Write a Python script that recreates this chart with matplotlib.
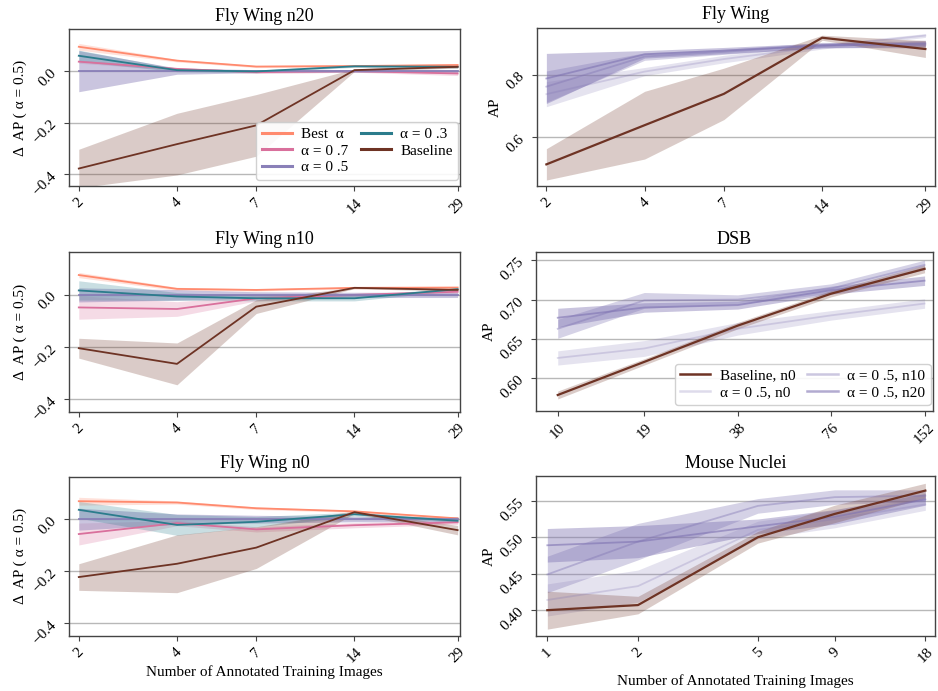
import matplotlib
matplotlib.use("Agg")
import matplotlib.pyplot as plt
from matplotlib.ticker import NullLocator, FixedLocator, FixedFormatter
from matplotlib.lines import Line2D

plt.rcParams['font.family'] = ['Liberation Serif', 'DejaVu Serif']

# ---------------- data ----------------
fly_x = [2, 4, 7, 14, 29]
dsb_x = [10, 19, 38, 76, 152]
mouse_x = [1, 2, 5, 9, 18]
fly_ticks = ['2', '4', '7', '14', '29']
dsb_ticks = ['10', '19', '38', '76', '152']
mouse_ticks = ['1', '2', '5', '9', '18']

left_labels = ['Best  α', 'α = 0 .7', 'α = 0 .5', 'α = 0 .3', 'Baseline']

# Fly Wing n20 (Delta AP vs alpha=0.5)
n20_best = [0.095, 0.041, 0.018, 0.020, 0.024]
n20_best_sd = [0.013, 0.005, 0.004, 0.004, 0.005]
n20_a07 = [0.037, 0.009, -0.004, 0.000, -0.009]
n20_a07_sd = [0.006, 0.005, 0.005, 0.004, 0.008]
n20_a05 = [0.0, 0.0, 0.0, 0.0, 0.0]
n20_a05_sd = [0.080, 0.012, 0.006, 0.005, 0.006]
n20_a03 = [0.060, 0.004, -0.001, 0.019, 0.017]
n20_a03_sd = [0.022, 0.006, 0.005, 0.004, 0.005]
n20_base = [-0.379, -0.284, -0.211, 0.004, 0.017]
n20_base_sd = [0.075, 0.120, 0.120, 0.005, 0.005]

# Fly Wing n10
n10_best = [0.076, 0.023, 0.019, 0.027, 0.028]
n10_best_sd = [0.010, 0.006, 0.004, 0.004, 0.005]
n10_a07 = [-0.048, -0.054, -0.013, 0.000, 0.012]
n10_a07_sd = [0.045, 0.028, 0.010, 0.006, 0.006]
n10_a05 = [0.0, 0.0, 0.0, 0.0, 0.0]
n10_a05_sd = [0.027, 0.020, 0.012, 0.010, 0.010]
n10_a03 = [0.017, -0.006, -0.013, -0.013, 0.022]
n10_a03_sd = [0.037, 0.015, 0.010, 0.010, 0.005]
n10_base = [-0.204, -0.264, -0.045, 0.027, 0.019]
n10_base_sd = [0.038, 0.080, 0.026, 0.003, 0.005]

# Fly Wing n0
n0_best = [0.069, 0.064, 0.042, 0.030, 0.003]
n0_best_sd = [0.015, 0.006, 0.005, 0.004, 0.004]
n0_a07 = [-0.057, -0.015, -0.039, -0.023, -0.012]
n0_a07_sd = [0.042, 0.010, 0.010, 0.010, 0.008]
n0_a05 = [0.0, 0.0, 0.0, 0.0, 0.0]
n0_a05_sd = [0.042, 0.020, 0.015, 0.010, 0.010]
n0_a03 = [0.036, -0.022, -0.010, 0.019, -0.006]
n0_a03_sd = [0.032, 0.040, 0.020, 0.008, 0.005]
n0_base = [-0.222, -0.171, -0.109, 0.027, -0.042]
n0_base_sd = [0.051, 0.111, 0.080, 0.005, 0.018]

# Fly Wing AP
fw_base = [0.514, 0.639, 0.739, 0.918, 0.882]
fw_base_sd = [0.050, 0.108, 0.082, 0.008, 0.027]
fw_n0 = [0.738, 0.810, 0.850, 0.890, 0.925]
fw_n0_sd = [0.040, 0.013, 0.012, 0.008, 0.006]
fw_n10 = [0.762, 0.858, 0.873, 0.895, 0.895]
fw_n10_sd = [0.050, 0.012, 0.008, 0.008, 0.010]
fw_n20 = [0.788, 0.865, 0.877, 0.893, 0.900]
fw_n20_sd = [0.080, 0.012, 0.010, 0.008, 0.010]

# DSB AP
dsb_base = [0.579, 0.621, 0.667, 0.7075, 0.739]
dsb_base_sd = [0.005, 0.004, 0.004, 0.004, 0.005]
dsb_n0 = [0.626, 0.638, 0.663, 0.680, 0.695]
dsb_n0_sd = [0.009, 0.010, 0.008, 0.006, 0.006]
dsb_n10 = [0.663, 0.699, 0.700, 0.714, 0.744]
dsb_n10_sd = [0.012, 0.010, 0.006, 0.006, 0.006]
dsb_n20 = [0.677, 0.690, 0.693, 0.712, 0.724]
dsb_n20_sd = [0.012, 0.006, 0.005, 0.005, 0.006]

# Mouse Nuclei AP
mn_base = [0.400, 0.407, 0.500, 0.532, 0.564]
mn_base_sd = [0.026, 0.012, 0.008, 0.012, 0.010]
mn_n0 = [0.414, 0.433, 0.510, 0.525, 0.545]
mn_n0_sd = [0.022, 0.022, 0.012, 0.012, 0.008]
mn_n10 = [0.449, 0.494, 0.543, 0.555, 0.557]
mn_n10_sd = [0.025, 0.025, 0.010, 0.010, 0.008]
mn_n20 = [0.489, 0.494, 0.515, 0.528, 0.552]
mn_n20_sd = [0.023, 0.022, 0.010, 0.010, 0.008]

# ---------------- style ----------------
c_best = '#FF8A6E'
c_a07 = '#D9709C'
c_a05 = '#8A80B8'
c_a03 = '#2B7C8C'
c_base = '#6E3324'
c_purple = '#7F73B2'

W, H = 938, 691
fig = plt.figure(figsize=(W / 100, H / 100), dpi=100)


def add_ax(x0, y0, x1, y1):
    return fig.add_axes([x0 / W, 1 - y1 / H, (x1 - x0) / W, (y1 - y0) / H])


def style(ax, xs, xt, xlim, ylim, yticks, yfmt):
    ax.set_xscale('log')
    ax.set_xlim(*xlim)
    ax.set_ylim(*ylim)
    ax.xaxis.set_major_locator(FixedLocator(xs))
    ax.xaxis.set_major_formatter(FixedFormatter(xt))
    ax.xaxis.set_minor_locator(NullLocator())
    ax.set_yticks(yticks)
    ax.set_yticklabels([yfmt.format(v).replace('-', '\u2212') for v in yticks])
    ax.tick_params(axis='both', labelsize=11, labelrotation=45, length=3.5,
                   color='#444444')
    ax.grid(axis='y', color='#b8b8b8', lw=1.0)
    ax.set_axisbelow(True)
    for s in ax.spines.values():
        s.set_color('#444444')
        s.set_linewidth(1.0)


def band(ax, x, m, sd, color, la=1.0, fa=0.3, lw=1.3):
    lo = [a - b for a, b in zip(m, sd)]
    hi = [a + b for a, b in zip(m, sd)]
    ax.fill_between(x, lo, hi, color=color, alpha=fa, lw=0)
    ax.plot(x, m, color=color, alpha=la, lw=lw)


left_sets = [
    ('Fly Wing n20', (n20_best, n20_best_sd), (n20_a07, n20_a07_sd), (n20_a05, n20_a05_sd),
     (n20_a03, n20_a03_sd), (n20_base, n20_base_sd)),
    ('Fly Wing n10', (n10_best, n10_best_sd), (n10_a07, n10_a07_sd), (n10_a05, n10_a05_sd),
     (n10_a03, n10_a03_sd), (n10_base, n10_base_sd)),
    ('Fly Wing n0', (n0_best, n0_best_sd), (n0_a07, n0_a07_sd), (n0_a05, n0_a05_sd),
     (n0_a03, n0_a03_sd), (n0_base, n0_base_sd)),
]
left_rects = [(68.5, 29.3, 460.3, 186), (68.5, 252.3, 460.3, 411.7), (68.5, 476.7, 460.3, 635.7)]
left_colors = [c_best, c_a07, c_a05, c_a03, c_base]

for i, (rect, data) in enumerate(zip(left_rects, left_sets)):
    ax = add_ax(*rect)
    title = data[0]
    for (m, sd), col in zip(data[1:], left_colors):
        fa = 0.25 if col != c_a05 else 0.45
        band(ax, fly_x, m, sd, col, fa=fa)
    style(ax, fly_x, fly_ticks, (1.86, 29.55), (-0.447, 0.163), [-0.4, -0.2, 0.0], '{:.1f}')
    ax.set_title(title, fontsize=13)
    ax.set_ylabel('Δ  AP ( α = 0.5)', fontsize=11, labelpad=2)
    if i == 0:
        handles = [Line2D([], [], color=c, lw=2.2) for c in left_colors]
        ax.legend(handles, left_labels, ncol=2, loc='lower right', fontsize=11,
                  handlelength=2.0, columnspacing=0.8, labelspacing=0.2,
                  borderpad=0.35, handletextpad=0.6, framealpha=0.9,
                  edgecolor='#cccccc', borderaxespad=0.0,
                  bbox_to_anchor=(0.995, 0.04))
    if i == 2:
        ax.set_xlabel('Number of Annotated Training Images', fontsize=11, labelpad=0)

# right column
right_sets = [
    ('Fly Wing', fly_x, fly_ticks, (1.868, 31.04), (0.445, 0.95), [0.6, 0.8], '{:.1f}',
     (fw_base, fw_base_sd), (fw_n0, fw_n0_sd), (fw_n10, fw_n10_sd), (fw_n20, fw_n20_sd)),
    ('DSB', dsb_x, dsb_ticks, (8.51, 161.2), (0.5587, 0.760), [0.60, 0.65, 0.70, 0.75], '{:.2f}',
     (dsb_base, dsb_base_sd), (dsb_n0, dsb_n0_sd), (dsb_n10, dsb_n10_sd), (dsb_n20, dsb_n20_sd)),
    ('Mouse Nuclei', mouse_x, mouse_ticks, (0.917, 19.38), (0.365, 0.584), [0.40, 0.45, 0.50, 0.55], '{:.2f}',
     (mn_base, mn_base_sd), (mn_n0, mn_n0_sd), (mn_n10, mn_n10_sd), (mn_n20, mn_n20_sd)),
]
right_rects = [(536.7, 27.7, 935.0, 186), (536, 252.3, 932.5, 411), (536, 476, 935.0, 635.7)]
right_labels = ['Baseline, n0', 'α = 0 .5, n0', 'α = 0 .5, n10', 'α = 0 .5, n20']
purple_line_alpha = [0.25, 0.4, 0.6]
purple_fill_alpha = [0.2, 0.32, 0.42]

for i, (rect, d) in enumerate(zip(right_rects, right_sets)):
    ax = add_ax(*rect)
    title, xs, xt, xlim, ylim, yt, fmt = d[:7]
    base, n0, n10, n20 = d[7:]
    for (m, sd), la, fa in zip([n0, n10, n20], purple_line_alpha, purple_fill_alpha):
        band(ax, xs, m, sd, c_purple, la=la, fa=fa)
    band(ax, xs, base[0], base[1], c_base, la=1.0, fa=0.25, lw=1.6)
    style(ax, xs, xt, xlim, ylim, yt, fmt)
    ax.set_title(title, fontsize=13)
    ax.set_ylabel('AP', fontsize=11, labelpad=2)
    if i == 1:
        handles = [Line2D([], [], color=c_base, lw=1.8)] + [
            Line2D([], [], color=c_purple, alpha=a, lw=1.8) for a in purple_line_alpha]
        ax.legend(handles, right_labels, ncol=2, loc='lower right', fontsize=11,
                  handlelength=2.0, columnspacing=0.8, labelspacing=0.2,
                  borderpad=0.35, handletextpad=0.6, framealpha=0.9,
                  edgecolor='#cccccc', borderaxespad=0.0,
                  bbox_to_anchor=(0.995, 0.04))
    if i == 2:
        ax.set_xlabel('Number of Annotated Training Images', fontsize=11, labelpad=6)

fig.savefig('out.png', dpi=100)
